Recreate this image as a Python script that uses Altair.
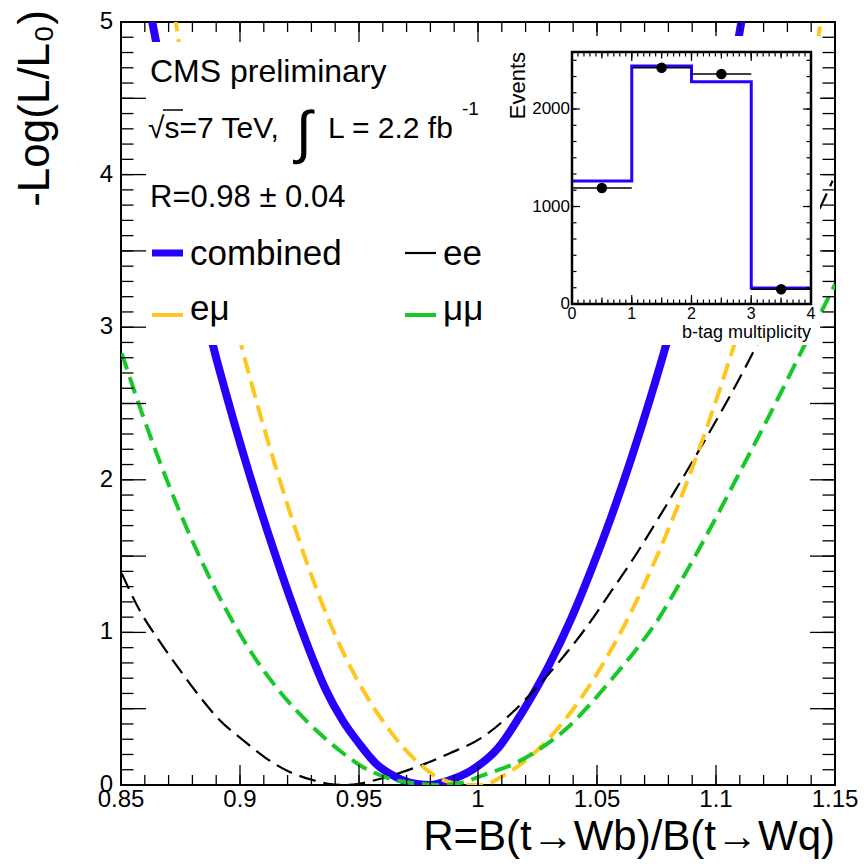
import altair as alt
import pandas as pd
import numpy as np

# ---------------- data ----------------
comb_x = [0.8625, 0.8650, 0.8886, 0.8942, 0.9012, 0.9082, 0.9151, 0.9221, 0.9291, 0.9361, 0.9430, 0.9500,
          0.9570, 0.9653, 0.9737, 0.9800, 0.9877, 0.9974, 1.0086, 1.0183, 1.0295, 1.0393, 1.0476, 1.0560,
          1.0644, 1.0727, 1.0790, 1.1090, 1.1112]
comb_y = [5.05, 4.85, 2.883, 2.56, 2.18, 1.825, 1.496, 1.18, 0.885, 0.623, 0.426, 0.273,
          0.142, 0.054, 0.008, 0.0, 0.03, 0.098, 0.245, 0.47, 0.775, 1.095, 1.41, 1.758,
          2.14, 2.55, 2.883, 4.85, 5.05]

ee_x = [0.8503, 0.8580, 0.8663, 0.8747, 0.8831, 0.8914, 0.9012, 0.9110, 0.9207, 0.9305, 0.9370, 0.9440,
        0.9500, 0.9570, 0.9667, 0.9779, 0.9877, 1.0016, 1.0141, 1.0253, 1.0337, 1.0449, 1.0560, 1.0672,
        1.0755, 1.0867, 1.0950, 1.1034, 1.1104, 1.1174, 1.1425, 1.1490]
ee_y = [1.387, 1.14, 0.94, 0.754, 0.579, 0.426, 0.295, 0.175, 0.087, 0.033, 0.008, 0.0,
        0.008, 0.033, 0.077, 0.140, 0.205, 0.310, 0.470, 0.650, 0.800, 1.020, 1.270, 1.530,
        1.740, 2.030, 2.250, 2.480, 2.680, 2.890, 3.740, 3.960]

emu_x = [0.8725, 0.8745, 0.9005, 0.9068, 0.9137, 0.9207, 0.9277, 0.9346, 0.9430, 0.9514, 0.9597, 0.9681,
         0.9765, 0.9849, 0.9960, 1.0016, 1.0114, 1.0225, 1.0337, 1.0434, 1.0518, 1.0588, 1.0672, 1.0741,
         1.0811, 1.0881, 1.0950, 1.1020, 1.1076, 1.1425, 1.1445]
emu_y = [5.05, 4.85, 2.883, 2.52, 2.15, 1.80, 1.474, 1.185, 0.880, 0.630, 0.426, 0.255,
         0.125, 0.035, 0.0, 0.0, 0.068, 0.194, 0.373, 0.571, 0.775, 0.967, 1.226, 1.460,
         1.718, 1.997, 2.292, 2.612, 2.883, 4.85, 5.05]

mumu_x = [0.8503, 0.8593, 0.8663, 0.8733, 0.8817, 0.8900, 0.8984, 0.9068, 0.9151, 0.9235, 0.9319, 0.9416,
          0.9514, 0.9625, 0.9737, 0.9849, 0.9918, 1.0044, 1.0156, 1.0253, 1.0365, 1.0462, 1.0560, 1.0658,
          1.0755, 1.0839, 1.0923, 1.1006, 1.1090, 1.1174, 1.1257, 1.1341, 1.1425, 1.1500]
mumu_y = [2.829, 2.415, 2.118, 1.842, 1.540, 1.272, 1.031, 0.820, 0.644, 0.491, 0.360, 0.229,
          0.120, 0.044, 0.011, 0.0, 0.011, 0.077, 0.142, 0.229, 0.360, 0.513, 0.690, 0.875,
          1.081, 1.299, 1.530, 1.770, 2.020, 2.270, 2.523, 2.785, 3.047, 3.280]

# inset: b-tag multiplicity
bin_lo = [0, 1, 2, 3]
bin_hi = [1, 2, 3, 4]
mc_events = [1262, 2441, 2280, 164]
data_events = [1190, 2423, 2359, 151]
data_err = [35, 49, 49, 12]

# tick labels / tick positions
x_major = [0.85, 0.90, 0.95, 1.00, 1.05, 1.10, 1.15]
x_labels = ["0.85", "0.9", "0.95", "1", "1.05", "1.1", "1.15"]
y_major = [0, 1, 2, 3, 4, 5]
y_labels = ["0", "1", "2", "3", "4", "5"]
inset_x_major = [0, 1, 2, 3, 4]
inset_x_labels = ["0", "1", "2", "3", "4"]
inset_y_major = [0, 1000, 2000]
inset_y_labels = ["0", "1000", "2000"]

# ---------------- layout ----------------
W, H = 714, 763
FONT = "Liberation Sans, Arial, Helvetica, DejaVu Sans, sans-serif"
BLUE = "#2600ff"
ORANGE = "#ffc61e"
GREEN = "#18c829"

xs = alt.Scale(domain=[0.85, 1.15], nice=False, zero=False)
ys = alt.Scale(domain=[0, 5], nice=False, zero=False)

one = pd.DataFrame({"a": [0]})


def curve(xv, yv, color, width, dash=None):
    df = pd.DataFrame({"x": xv, "y": yv, "o": list(range(len(xv)))})
    kw = dict(color=color, strokeWidth=width, clip=True, strokeCap="butt", interpolate="monotone")
    if dash:
        kw["strokeDash"] = dash
    return alt.Chart(df).mark_line(**kw).encode(
        x=alt.X("x:Q", scale=xs, axis=None),
        y=alt.Y("y:Q", scale=ys, axis=None),
        order="o:Q",
    )


def xticks(vals, length):
    df = pd.DataFrame({"v": vals})
    bot = alt.Chart(df).mark_rule(color="black", strokeWidth=1.3).encode(
        x=alt.X("v:Q", scale=xs, axis=None), y=alt.value(H), y2=alt.value(H - length))
    top = alt.Chart(df).mark_rule(color="black", strokeWidth=1.3).encode(
        x=alt.X("v:Q", scale=xs, axis=None), y=alt.value(0), y2=alt.value(length))
    return [bot, top]


def yticks(vals, length):
    df = pd.DataFrame({"v": vals})
    left = alt.Chart(df).mark_rule(color="black", strokeWidth=1.3).encode(
        y=alt.Y("v:Q", scale=ys, axis=None), x=alt.value(0), x2=alt.value(length))
    right = alt.Chart(df).mark_rule(color="black", strokeWidth=1.3).encode(
        y=alt.Y("v:Q", scale=ys, axis=None), x=alt.value(W), x2=alt.value(W - length))
    return [left, right]


def box(x0, x1, y0, y1, fill="white", stroke=None, sw=0):
    kw = dict(fill=fill)
    if stroke:
        kw.update(stroke=stroke, strokeWidth=sw)
    return alt.Chart(one).mark_rect(**kw).encode(
        x=alt.value(x0), x2=alt.value(x1), y=alt.value(y0), y2=alt.value(y1))


def txt(s, x, y, size, align="left", baseline="alphabetic", angle=None):
    kw = dict(text=s, font=FONT, fontSize=size, align=align, baseline=baseline, color="black")
    if angle is not None:
        kw["angle"] = angle
    return alt.Chart(one).mark_text(**kw).encode(x=alt.value(x), y=alt.value(y))


def seg(x0, x1, y, color, width):
    return alt.Chart(one).mark_rule(color=color, strokeWidth=width).encode(
        x=alt.value(x0), x2=alt.value(x1), y=alt.value(y))


x_minor = [round(v, 3) for v in np.arange(0.85, 1.1501, 0.01)]
y_half = [round(v, 2) for v in np.arange(0, 5.01, 0.5)]
y_minor = [round(v, 2) for v in np.arange(0, 5.01, 0.1)]

main_layers = [
    curve(comb_x, comb_y, BLUE, 8),
    curve(ee_x, ee_y, "black", 2.2, dash=[17, 8]),
    curve(emu_x, emu_y, ORANGE, 4, dash=[17, 8]),
    curve(mumu_x, mumu_y, GREEN, 4, dash=[17, 8]),
]
main_layers += xticks(x_minor, 10) + xticks(x_major, 20)
main_layers += yticks(y_minor, 12.5) + yticks(y_half, 25)

# tick labels and axis titles
xl_df = pd.DataFrame({"v": x_major, "t": x_labels})
yl_df = pd.DataFrame({"v": y_major, "t": y_labels})
main_layers += [
    alt.Chart(xl_df).mark_text(font=FONT, fontSize=24, baseline="top", align="center", color="black").encode(
        x=alt.X("v:Q", scale=xs, axis=None), y=alt.value(H + 3), text="t:N"),
    alt.Chart(yl_df).mark_text(font=FONT, fontSize=24, baseline="middle", align="right", color="black").encode(
        y=alt.Y("v:Q", scale=ys, axis=None), x=alt.value(-8), text="t:N"),
    txt("R=B(t\u2192Wb)/B(t\u2192Wq)", W, 828, 42, align="right"),
    txt("-Log(L/L\u2080)", -72, -12, 44, align="right", angle=270),
]

# white panes of the legend and of the inset pad
main_layers += [box(25, 359, 20, 323), box(359, W - 15, 14, 323)]
# text block
main_layers += [
    txt("CMS preliminary", 29, 60, 32),
    txt("\u221as=7 TeV,", 27, 116, 30),
    seg(42, 62, 88, "black", 1.5),
    txt("\u222b", 183, 113, 58, align="center", baseline="middle"),
    txt("L = 2.2 fb", 207, 116, 30),
    txt("-1", 341, 93, 19),
    txt("R=0.98 \u00b1 0.04", 29, 185, 31),
    seg(31, 62, 231, BLUE, 7),
    txt("combined", 69, 243, 35),
    seg(284, 315, 231, "black", 2.2),
    txt("ee", 322, 243, 35),
    seg(31, 62, 293, ORANGE, 4),
    txt("e\u03bc", 69, 298, 35),
    seg(284, 315, 293, GREEN, 4),
    txt("\u03bc\u03bc", 322, 298, 35),
]
main = alt.layer(*main_layers)

# ---------------- inset ----------------
IX0, IX1, IY0, IY1 = 451, 690, 282, 30
ixs = alt.Scale(domain=[0, 4], range=[IX0, IX1], nice=False, zero=False)
iys = alt.Scale(domain=[0, 2585], range=[IY0, IY1], nice=False, zero=False)

hist_df = pd.DataFrame({"x": bin_lo + [bin_hi[-1]], "y": mc_events + [mc_events[-1]]})
pts_df = pd.DataFrame({"lo": bin_lo, "hi": bin_hi,
                       "c": [(a + b) / 2 for a, b in zip(bin_lo, bin_hi)],
                       "y": data_events,
                       "ylo": [d - e for d, e in zip(data_events, data_err)],
                       "yhi": [d + e for d, e in zip(data_events, data_err)]})

hist = alt.Chart(hist_df).mark_line(color=BLUE, strokeWidth=3, interpolate="step-after").encode(
    x=alt.X("x:Q", scale=ixs, axis=None),
    y=alt.Y("y:Q", scale=iys, axis=None),
)
xerr = alt.Chart(pts_df).mark_rule(color="black", strokeWidth=1.5).encode(
    x=alt.X("lo:Q", scale=ixs, axis=None), x2="hi:Q", y=alt.Y("y:Q", scale=iys, axis=None))
yerr = alt.Chart(pts_df).mark_rule(color="black", strokeWidth=1.5).encode(
    x=alt.X("c:Q", scale=ixs, axis=None), y=alt.Y("ylo:Q", scale=iys, axis=None), y2="yhi:Q")
dots = alt.Chart(pts_df).mark_circle(color="black", size=110, opacity=1).encode(
    x=alt.X("c:Q", scale=ixs, axis=None), y=alt.Y("y:Q", scale=iys, axis=None))


def ixt(vals, length):
    df = pd.DataFrame({"v": vals})
    return [
        alt.Chart(df).mark_rule(color="black", strokeWidth=1.2).encode(
            x=alt.X("v:Q", scale=ixs, axis=None), y=alt.value(IY0), y2=alt.value(IY0 - length)),
        alt.Chart(df).mark_rule(color="black", strokeWidth=1.2).encode(
            x=alt.X("v:Q", scale=ixs, axis=None), y=alt.value(IY1), y2=alt.value(IY1 + length)),
    ]


def iyt(vals, length):
    df = pd.DataFrame({"v": vals})
    return [
        alt.Chart(df).mark_rule(color="black", strokeWidth=1.2).encode(
            y=alt.Y("v:Q", scale=iys, axis=None), x=alt.value(IX0), x2=alt.value(IX0 + length)),
        alt.Chart(df).mark_rule(color="black", strokeWidth=1.2).encode(
            y=alt.Y("v:Q", scale=iys, axis=None), x=alt.value(IX1), x2=alt.value(IX1 - length)),
    ]


ix_minor = [round(v, 2) for v in np.arange(0, 4.001, 0.1)]
ix_half = [round(v, 2) for v in np.arange(0, 4.001, 0.5)]
iy_minor = [v for v in np.arange(0, 2585, 1000 / 6)]

ixl_df = pd.DataFrame({"v": inset_x_major, "t": inset_x_labels})
iyl_df = pd.DataFrame({"v": inset_y_major, "t": inset_y_labels})

inset_layers = [box(IX0, IX1, IY1, IY0, fill="white"), hist, xerr, yerr, dots]
inset_layers += ixt(ix_minor, 4.5) + ixt(ix_half, 6.5) + ixt(inset_x_major, 9)
inset_layers += iyt(iy_minor, 4.5) + iyt(inset_y_major, 8)
inset_layers += [
    box(IX0, IX1, IY1, IY0, fill="transparent", stroke="black", sw=2.5),
    alt.Chart(ixl_df).mark_text(font=FONT, fontSize=16, baseline="top", align="center", color="black").encode(
        x=alt.X("v:Q", scale=ixs, axis=None), y=alt.value(IY0 + 2), text="t:N"),
    alt.Chart(iyl_df).mark_text(font=FONT, fontSize=17, baseline="middle", align="right", color="black").encode(
        y=alt.Y("v:Q", scale=iys, axis=None), x=alt.value(IX0 - 2), text="t:N"),
    txt("b-tag multiplicity", IX1, 316, 18, align="right"),
    txt("Events", 404, IY1, 22, align="right", angle=270),
]
inset = alt.layer(*inset_layers)

chart = alt.layer(main, inset).resolve_scale(x="independent", y="independent").properties(
    width=W, height=H,
    padding={"left": 113, "top": 14, "right": 24, "bottom": 74},
    autosize=alt.AutoSizeParams(type="none"),
    background="white",
).configure_view(stroke="black", strokeWidth=2)

chart.save("out.html", embed_options={"renderer": "svg", "actions": False})
